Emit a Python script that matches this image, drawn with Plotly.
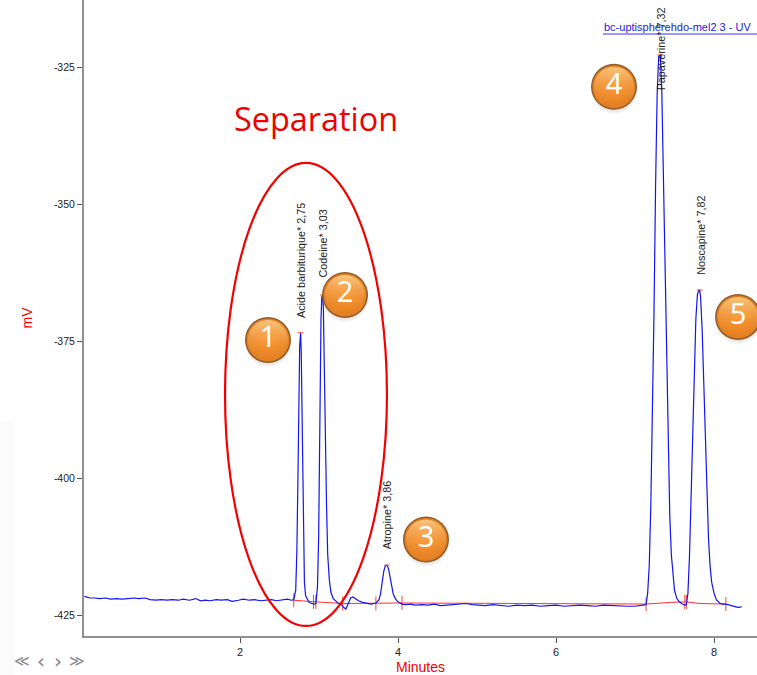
import plotly.graph_objects as go

time_min = [0.03,0.06,0.1,0.16,0.22,0.3,0.36,0.44,0.5,0.58,0.66,0.72,0.8,0.86,0.94,1.0,1.08,1.14,1.22,1.28,1.36,1.44,1.5,1.56,1.62,1.7,1.76,1.84,1.9,1.98,2.04,2.12,2.18,2.26,2.32,2.4,2.46,2.54,2.6,2.65,2.68,
 2.705,2.72,2.735,2.745,2.755,2.767,2.775,2.785,2.795,2.805,2.815,2.83,2.85,2.87,2.89,2.91,2.94,2.96,
 2.98,2.995,3.005,3.015,3.025,3.035,3.047,3.055,3.065,3.075,3.085,3.095,3.11,3.13,3.15,3.18,3.21,3.24,3.28,3.31,3.34,3.37,3.4,3.43,3.46,3.5,3.55,3.6,3.66,3.72,3.76,3.78,3.8,3.82,3.84,3.86,3.88,3.9,3.92,3.94,3.97,4.0,4.05,4.1,4.16,4.22,4.3,4.38,4.46,4.54,4.62,4.7,4.78,4.86,4.94,5.02,5.1,5.2,5.3,5.4,5.5,5.6,5.7,5.8,5.9,6.0,6.1,6.2,6.3,6.4,6.5,6.6,6.7,6.8,6.9,7.0,7.08,7.14,
 7.16,7.18,7.2,7.22,7.24,7.26,7.28,7.3,7.32,7.34,7.36,7.38,7.4,7.42,7.44,7.46,7.48,7.5,7.53,7.56,7.6,7.63,7.65,
 7.67,7.69,7.71,7.73,7.75,7.77,7.79,7.81,7.82,7.83,7.85,7.87,7.89,7.91,7.93,7.95,7.97,8.0,8.03,8.07,8.11,8.15,8.2,8.25,8.3,8.35]
signal_mv = [-421.6,-421.7,-421.9,-421.9,-422.0,-421.9,-422.1,-422.0,-422.1,-422.0,-421.9,-422.0,-421.9,-422.2,-422.3,-422.2,-422.3,-422.2,-422.3,-422.1,-422.3,-422.0,-422.4,-422.3,-422.4,-422.2,-422.3,-422.2,-422.5,-422.3,-422.1,-422.3,-422.2,-422.4,-422.3,-422.2,-422.4,-422.2,-422.1,-422.3,-422.2,
 -420.5,-413,-398,-384,-376,-373.5,-377,-388,-402,-413,-419,-421.5,-422.2,-422.6,-422.8,-422.9,-423.0,-422.9,
 -420,-411,-396,-381,-371,-367,-366.6,-369,-376,-386,-396,-405,-414,-418.5,-420.8,-422,-422.5,-422.8,-423,-423.6,-423.9,-423.0,-421.9,-421.7,-422.0,-422.4,-422.7,-422.9,-423.0,-422.8,-422.2,-421,-419,-417,-416,-415.9,-416.6,-418.2,-420,-421.2,-422.1,-422.6,-423.0,-423.1,-423.0,-423.2,-423.1,-423.2,-423.0,-423.3,-423.2,-423.1,-423.0,-422.9,-423.1,-423.2,-423.3,-423.1,-423.3,-423.4,-423.2,-423.3,-423.2,-423.4,-423.3,-423.2,-423.4,-423.3,-423.2,-423.3,-423.4,-423.2,-423.3,-423.4,-423.4,-423.4,-423.3,-423.1,
 -421,-416,-405,-390,-370,-347,-330,-323,-322.8,-330,-346,-364,-381,-396,-407,-414,-418,-420.5,-422,-422.6,-423,-423.2,-423.1,
 -421,-414,-404,-392,-380,-371,-366.5,-365.7,-365.8,-367,-373,-383,-394,-404,-411,-416,-419,-421,-422.2,-422.8,-423.0,-423.0,-423.2,-423.4,-423.6,-423.5]

baseline_t = [2.68,2.93,2.96,3.30,3.72,4.05,7.14,7.30,7.45,7.63,7.65,7.82,8.15]
baseline_v = [-422.3,-422.6,-422.6,-422.9,-422.9,-422.8,-423.0,-422.8,-422.7,-422.6,-422.6,-422.9,-423.0]
integration_t = [2.68,2.93,2.96,3.30,3.72,4.05,7.14,7.63,7.65,8.15]
integration_v = [-422.3,-422.6,-422.6,-422.9,-422.9,-422.8,-423.0,-422.6,-422.6,-423.0]
apex_t = [2.767,3.047,3.86,7.32,7.82]
apex_v = [-373.5,-366.6,-415.9,-322.8,-365.7]

peak_names = ["Acide barbiturique* 2,75","Codeine* 3,03","Atropine* 3,86","Papaverine* 7,32","Noscapine* 7,82"]
label_t = [2.77,3.05,3.87,7.33,7.84]
label_v = [-371.1,-363.8,-413.4,-329.7,-363.3]

badge_text = ["1","2","3","4","5"]
badge_t = [2.354,3.329,4.354,6.734,8.304]
badge_v = [-375.5,-367.3,-411.9,-329.3,-371.3]

x_ticks = [2,4,6,8]
y_ticks = [-325,-350,-375,-400,-425]
y_tick_text = ["-325","-350","-375","-400","-425"]
nav_marks = ["≪","‹","›","≫"]
nav_px = [22,41,58,77]

fig = go.Figure()

fig.add_shape(type="rect", xref="paper", yref="paper", x0=-84/673, x1=-70/673, y0=-39/636, y1=215/636,
              line_width=0, fillcolor="#fbfbfb", layer="below")

fig.add_trace(go.Scatter(x=baseline_t, y=baseline_v, mode="lines", line=dict(color="#ff3030", width=1), hoverinfo="skip"))
fig.add_trace(go.Scatter(x=integration_t, y=integration_v, mode="markers",
                         marker=dict(symbol="line-ns", size=10, line=dict(color="#ff4040", width=1)), hoverinfo="skip"))
fig.add_trace(go.Scatter(x=time_min, y=signal_mv, mode="lines", line=dict(color="#1414f0", width=1.2), hoverinfo="skip"))
fig.add_trace(go.Scatter(x=apex_t, y=apex_v, mode="markers",
                         marker=dict(symbol="line-ew", size=4, line=dict(color="#ff4040", width=1)), hoverinfo="skip"))

fig.add_shape(type="circle", xref="x", yref="y", x0=1.81, x1=3.86, y0=-427.0, y1=-342.5,
              line=dict(color="#f40000", width=2.2))

for name, t, v in zip(peak_names, label_t, label_v):
    fig.add_annotation(x=t, y=v, text=name, textangle=-90, showarrow=False, yanchor="bottom", xanchor="center",
                       font=dict(family="Liberation Sans", size=10.8, color="#222222"))

# soft shadow on the main axis; the badge itself sits on an overlay axis shifted upward
fig.add_trace(go.Scatter(x=badge_t, y=badge_v, mode="markers", hoverinfo="skip", cliponaxis=False,
                         marker=dict(size=48, color="rgba(60,40,20,0)", line_width=0,
                                     gradient=dict(type="radial", color="rgba(60,40,20,0.7)"))))
fig.add_trace(go.Scatter(x=badge_t, y=badge_v, mode="markers", hoverinfo="skip", cliponaxis=False, yaxis="y2",
                         marker=dict(size=46, color="#8f5a28", line_width=0,
                                     gradient=dict(type="radial", color="#f8902a"))))
fig.add_trace(go.Scatter(x=badge_t, y=badge_v, mode="markers", hoverinfo="skip", cliponaxis=False, yaxis="y2",
                         marker=dict(size=43, color="#e07f22", line_width=0,
                                     gradient=dict(type="radial", color="#f98c26"))))
fig.add_trace(go.Scatter(x=badge_t, y=badge_v, mode="markers+text", text=badge_text, textposition="middle center",
                         hoverinfo="skip", cliponaxis=False, yaxis="y2",
                         textfont=dict(family="Noto Sans", size=29, color="white"),
                         marker=dict(size=40, color="rgba(255,215,150,0.8)", line_width=0,
                                     gradient=dict(type="vertical", color="rgba(248,144,42,0)"))))

fig.add_annotation(xref="paper", yref="paper", x=(316-84)/673, y=(636-118)/636, text="Separation", showarrow=False,
                   xanchor="center", yanchor="middle", font=dict(family="Open Sans", size=32.4, color="#f00000"))
fig.add_annotation(xref="paper", yref="paper", x=(677-84)/673, y=(636-27)/636, text="bc-uptispherehdo-mel2 3 - UV",
                   xanchor="center", yanchor="middle", showarrow=False,
                   font=dict(family="Liberation Sans", size=11, color="#2020e0"))
fig.add_shape(type="line", xref="paper", yref="paper", x0=(603-84)/673, x1=1, y0=(636-34)/636, y1=(636-34)/636,
              line=dict(color="#3030f0", width=1))

for mark, px in zip(nav_marks, nav_px):
    fig.add_annotation(xref="paper", yref="paper", x=(px-84)/673, y=-25/636, text=mark, showarrow=False,
                       xanchor="center", yanchor="middle",
                       font=dict(family="DejaVu Sans", size=15 if mark in "≪≫" else 20, color="#888888"))

fig.update_layout(
    width=757, height=675, autosize=False, showlegend=False,
    margin=dict(l=84, r=0, t=0, b=39, autoexpand=False),
    paper_bgcolor="white", plot_bgcolor="white",
    font=dict(family="Liberation Sans", size=11, color="#222222"),
    xaxis=dict(range=[0.025, 8.544], tickvals=x_ticks, ticks="outside", ticklen=5, tickcolor="#555555", tickwidth=1,
               showgrid=False, zeroline=False, showline=True, linecolor="#909090", linewidth=2,
               tickfont=dict(size=11, color="#222222"),
               title=dict(text="Minutes", font=dict(size=14, color="#f00000"), standoff=8)),
    yaxis=dict(range=[-428.83, -312.77], tickvals=y_ticks, ticktext=y_tick_text, ticks="outside", ticklen=5,
               tickcolor="#555555", tickwidth=1, showgrid=False, zeroline=False, showline=True,
               linecolor="#909090", linewidth=2, tickfont=dict(size=10.5, color="#222222"),
               title=dict(text="mV", font=dict(size=14, color="#f00000"), standoff=18)),
    yaxis2=dict(range=[-428.83-0.7, -312.77-0.7], overlaying="y", visible=False),
)
fig.write_html("out.html", config={"displayModeBar": False},
               post_script="document.documentElement.style.margin='0';document.body.style.margin='0';document.body.style.overflow='hidden';")
